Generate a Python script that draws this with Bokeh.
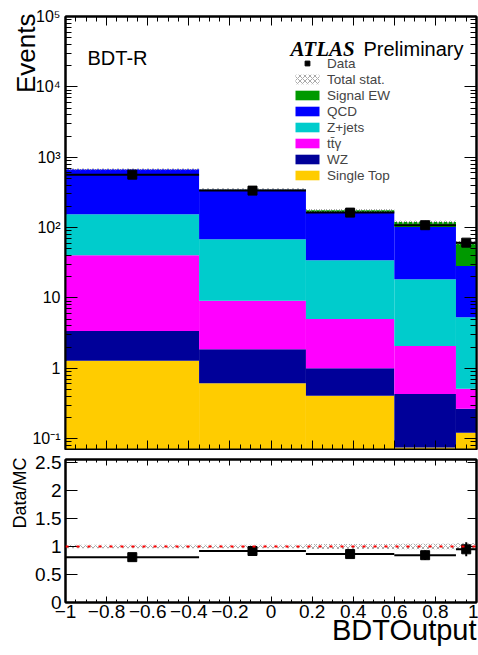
import numpy as np
from bokeh.plotting import figure
from bokeh.models import (Range1d, LogAxis, LinearAxis, Label, Legend, LegendItem, Title,
                          FixedTicker, CustomJSTickFormatter, Span)
from bokeh.layouts import column
from bokeh.embed import file_html
from bokeh.resources import INLINE

# ---------------- data ----------------
bin_edges = [-1.0, -0.35, 0.17, 0.6, 0.9, 1.0]
single_top = [1.28, 0.61, 0.405, 0.074, 0.12]
wz = [2.10, 1.25, 0.595, 0.356, 0.145]
ttgamma = [37.1, 7.24, 4.0, 1.64, 0.245]
zjets = [114.0, 59.1, 29.4, 16.4, 4.79]
qcd = [517.0, 278.0, 131.6, 83.5, 23.2]
signal_ew = [1.5, 4.0, 10.0, 18.0, 32.8]
data = [565.0, 335.0, 163.0, 108.0, 61.0]
data_err = [23.8, 18.3, 12.8, 10.4, 7.8]
stat_rel = [0.03, 0.03, 0.045, 0.05, 0.06]
ratio = [0.81, 0.92, 0.865, 0.845, 0.95]
ratio_err = [0.035, 0.05, 0.07, 0.085, 0.125]

x_major_ticks = [-1.0, -0.8, -0.6, -0.4, -0.2, 0.0, 0.2, 0.4, 0.6, 0.8, 1.0]
x_minor_ticks = [round(-1.0 + 0.05 * i, 2) for i in range(41)]
log_major_ticks = [0.1, 1, 10, 100, 1e3, 1e4, 1e5]
log_minor_ticks = [k * 10.0 ** d for d in range(-2, 5) for k in range(2, 10)]
ratio_ticks = [0, 0.5, 1, 1.5, 2, 2.5]

# ---------------- helpers ----------------
left = bin_edges[:-1]
right = bin_edges[1:]
centers = [(a + b) / 2 for a, b in zip(left, right)]

FONT = "Liberation Sans"
fmt_lin = CustomJSTickFormatter(code="""
const a = Math.abs(tick);
const s = parseFloat(a.toFixed(2)).toString();
return (tick < -1e-9 ? "\u2212" : "") + s;
""")
fmt_log = CustomJSTickFormatter(code="""
const e = Math.round(Math.log10(tick));
if (e == 0) return "1";
if (e == 1) return "10";
const sup = {"-":"\u207b","0":"\u2070","1":"\u00b9","2":"\u00b2","3":"\u00b3","4":"\u2074","5":"\u2075","6":"\u2076","7":"\u2077","8":"\u2078","9":"\u2079"};
return "10" + String(e).split("").map(c => sup[c]).join("");
""")
fmt_empty = CustomJSTickFormatter(code="return '';")


def style_axis(ax, major_in, minor_in, label_size=None, standoff=3):
    ax.axis_line_width = 2
    ax.axis_line_color = "black"
    ax.major_tick_in = major_in
    ax.major_tick_out = 0
    ax.minor_tick_in = minor_in
    ax.minor_tick_out = 0
    ax.major_tick_line_width = 1
    ax.minor_tick_line_width = 1
    ax.major_tick_line_color = "black"
    ax.minor_tick_line_color = "black"
    if label_size is None:
        ax.formatter = fmt_empty
        ax.major_label_text_font_size = "0px"
        ax.major_label_standoff = 0
    else:
        ax.major_label_text_font = FONT
        ax.major_label_text_font_size = label_size
        ax.major_label_text_color = "black"
        ax.major_label_standoff = standoff


def side_title(text, size, align, valign, standoff, offset):
    return Title(text=text, align=align, vertical_align=valign, standoff=standoff,
                 offset=offset, text_font=FONT, text_font_size=size,
                 text_font_style="normal", text_color="black")


xr = Range1d(-1, 1)

# ---------------- top panel ----------------
p1 = figure(frame_width=411, frame_height=433, x_range=xr, y_range=Range1d(0.07, 1e5),
            y_axis_type="log", output_backend="svg", toolbar_location=None,
            min_border_left=65, min_border_right=2, min_border_top=16, min_border_bottom=1)
p1.grid.visible = False
p1.outline_line_color = "black"
p1.outline_line_width = 2
p1.background_fill_color = "white"
p1.border_fill_color = "white"

xt = FixedTicker(ticks=x_major_ticks, minor_ticks=x_minor_ticks)
lt = FixedTicker(ticks=log_major_ticks, minor_ticks=log_minor_ticks)

p1.xaxis.ticker = xt
style_axis(p1.xaxis[0], 9, 5)
p1.yaxis.ticker = lt
p1.yaxis.formatter = fmt_log
style_axis(p1.yaxis[0], 12, 6, "16px", 5)
p1.add_layout(side_title("Events", "26px", "right", "bottom", -23, -3), "left")

ax = LogAxis(ticker=lt)
style_axis(ax, 12, 6)
p1.add_layout(ax, "right")
ax = LinearAxis(ticker=xt)
style_axis(ax, 9, 5)
p1.add_layout(ax, "above")

components = [("Single Top", single_top, "#ffcc00"),
              ("WZ", wz, "#000099"),
              ("t\u0074\u0304\u03b3", ttgamma, "#ff00ff"),
              ("Z+jets", zjets, "#00cccc"),
              ("QCD", qcd, "#0000ff"),
              ("Signal EW", signal_ew, "#009900")]

base = np.full(len(left), 1e-3)
renderers = {}
for name, vals, col in components:
    top = base + np.array(vals)
    r = p1.quad(left=left, right=right, bottom=base, top=top,
                fill_color=col, line_color=None)
    renderers[name] = r
    base = top
total = base

band = p1.quad(left=left, right=right,
               bottom=total * (1 - np.array(stat_rel)), top=total * (1 + np.array(stat_rel)),
               fill_color="white", fill_alpha=0, line_color=None,
               hatch_pattern="diagonal_cross", hatch_color="#aaaaaa", hatch_scale=5, hatch_weight=1)

p1.segment(x0=left, x1=right, y0=data, y1=data, line_color="black", line_width=2)
p1.segment(x0=centers, x1=centers, y0=np.array(data) - np.array(data_err),
           y1=np.array(data) + np.array(data_err), line_color="black", line_width=2)
dsq = p1.scatter(x=centers, y=data, marker="square", size=9, fill_color="black", line_color="black")

items = [LegendItem(label="Data", renderers=[dsq]),
         LegendItem(label="Total stat.", renderers=[band])]
for name in ["Signal EW", "QCD", "Z+jets", "t\u0074\u0304\u03b3", "WZ", "Single Top"]:
    items.append(LegendItem(label=name, renderers=[renderers[name]]))
leg = Legend(items=items, location=(227, 266), glyph_width=30, glyph_height=12,
             label_height=16, spacing=0, padding=0, margin=0, border_line_color=None,
             background_fill_alpha=0, label_text_font=FONT, label_text_font_size="13.5px",
             label_standoff=5)
p1.add_layout(leg)

p1.add_layout(Label(x=22, y=392, x_units="screen", y_units="screen", text="BDT-R",
                    text_align="left", text_baseline="alphabetic",
                    text_font=FONT, text_font_size="20px", text_color="black"))
p1.add_layout(Label(x=225, y=401, x_units="screen", y_units="screen", text="ATLAS",
                    text_align="left", text_baseline="alphabetic", text_font="Liberation Serif",
                    text_font_style="bold italic", text_font_size="21px", text_color="black"))
p1.add_layout(Label(x=298, y=401, x_units="screen", y_units="screen", text="Preliminary",
                    text_align="left", text_baseline="alphabetic",
                    text_font=FONT, text_font_size="20px", text_color="black"))

# ---------------- ratio panel ----------------
p2 = figure(frame_width=411, frame_height=143, x_range=xr, y_range=Range1d(0, 2.554),
            output_backend="svg", toolbar_location=None,
            min_border_left=65, min_border_right=2, min_border_top=9, min_border_bottom=53)
p2.grid.visible = False
p2.outline_line_color = "black"
p2.outline_line_width = 2
p2.background_fill_color = "white"
p2.border_fill_color = "white"

p2.xaxis.ticker = xt
p2.xaxis.formatter = fmt_lin
style_axis(p2.xaxis[0], 6, 3, "19px", 2)
rt = FixedTicker(ticks=ratio_ticks, minor_ticks=[])
p2.yaxis.ticker = rt
p2.yaxis.formatter = fmt_lin
style_axis(p2.yaxis[0], 12, 0, "19px", 4)
p2.add_layout(side_title("Data/MC", "18px", "right", "bottom", 5, -2), "left")
p2.add_layout(side_title("BDTOutput", "29px", "right", "top", -14, 0), "below")

ax = LinearAxis(ticker=rt)
style_axis(ax, 9, 0)
p2.add_layout(ax, "right")
ax = LinearAxis(ticker=xt)
style_axis(ax, 6, 3)
p2.add_layout(ax, "above")

p2.quad(left=left, right=right, bottom=1 - np.array(stat_rel), top=1 + np.array(stat_rel),
        fill_alpha=0, line_color=None, hatch_pattern="diagonal_cross",
        hatch_color="#aaaaaa", hatch_scale=5, hatch_weight=1)
p2.add_layout(Span(location=1, dimension="width", line_color="red", line_width=2,
                   line_dash="3 8"))
p2.segment(x0=left, x1=right, y0=ratio, y1=ratio, line_color="black", line_width=2)
p2.segment(x0=centers, x1=centers, y0=np.array(ratio) - np.array(ratio_err),
           y1=np.array(ratio) + np.array(ratio_err), line_color="black", line_width=2)
p2.scatter(x=centers, y=ratio, marker="square", size=9, fill_color="black", line_color="black")

layout = column(p1, p2, spacing=0)
open("out.html", "w").write(file_html(layout, INLINE))
